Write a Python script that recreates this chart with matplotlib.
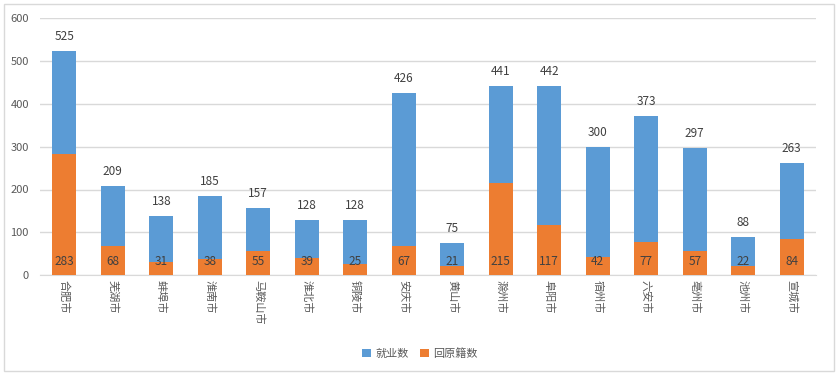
import matplotlib
matplotlib.use("Agg")
import matplotlib.pyplot as plt
from matplotlib.patches import Rectangle

plt.rcParams['font.family'] = ['Noto Sans CJK SC', 'DejaVu Sans']

cities = ["合肥市", "芜湖市", "蚌埠市", "淮南市", "马鞍山市", "淮北市", "铜陵市", "安庆市",
          "黄山市", "滁州市", "阜阳市", "宿州市", "六安市", "亳州市", "池州市", "宣城市"]
employed = [525, 209, 138, 185, 157, 128, 128, 426, 75, 441, 442, 300, 373, 297, 88, 263]
returned = [283, 68, 31, 38, 55, 39, 25, 67, 21, 215, 117, 42, 77, 57, 22, 84]

blue = "#5b9bd5"
orange = "#ed7d31"
txt = "#404040"
tick_c = "#595959"

fig = plt.figure(figsize=(8.38, 3.75), dpi=100)
fig.patches.append(Rectangle((4/838, 4/375), 830/838, 367/375, transform=fig.transFigure,
                             fill=False, edgecolor="#d9d9d9", linewidth=1))
ax = fig.add_axes([40/838, 1-275/375, 776/838, (275-18.5)/375])

x = list(range(len(cities)))
ax.bar(x, employed, width=0.5, color=blue, label="就业数", zorder=2)
ax.bar(x, returned, width=0.5, color=orange, label="回原籍数", zorder=3)

for xi, e, r in zip(x, employed, returned):
    ax.text(xi, e + 34, str(e), ha="center", va="center", fontsize=8.5, color=txt, zorder=4)
    ax.text(xi, 32, str(r), ha="center", va="center", fontsize=8.5, color=txt, zorder=4)

ax.set_xlim(-0.5, len(cities) - 0.5)
ax.set_ylim(0, 600)
ax.set_yticks(range(0, 601, 100))
ax.yaxis.grid(True, color="#d9d9d9", linewidth=1, zorder=0)
ax.set_axisbelow(True)
for s in ["top", "right", "left"]:
    ax.spines[s].set_visible(False)
ax.spines["bottom"].set_color("#d9d9d9")
ax.tick_params(axis="both", length=0, labelsize=8, colors=tick_c)
ax.tick_params(axis="y", pad=8)
ax.set_xticks(x)
ax.set_xticklabels(cities, rotation=-90, va="top", ha="center")

ax.legend(loc="upper center", bbox_to_anchor=(0.49, -0.245), ncol=2, frameon=False,
          fontsize=8, labelcolor=tick_c, handlelength=0.8, handleheight=0.8,
          columnspacing=1.0, handletextpad=0.4)

fig.savefig("out.png", dpi=100)
